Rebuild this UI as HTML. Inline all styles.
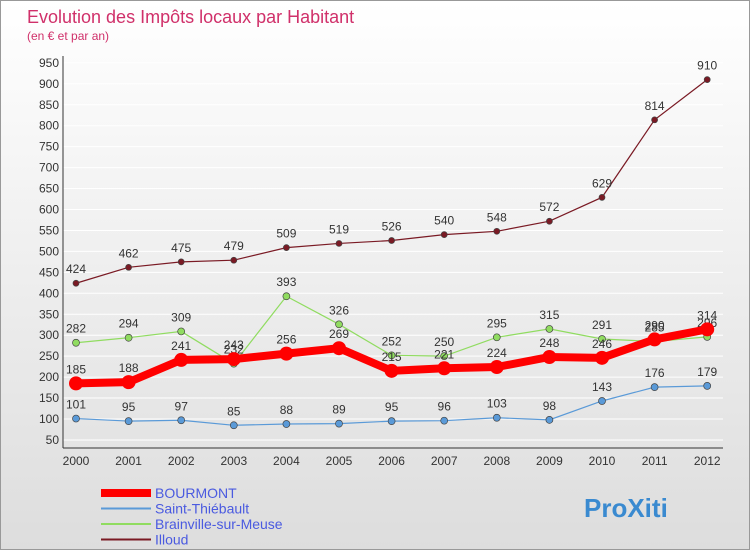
<!DOCTYPE html>
<html><head><meta charset="utf-8"><style>
body{margin:0;}
#c{width:748px;height:548px;border:1px solid #999;background:linear-gradient(#fff,#ddd);position:relative;font-family:"Liberation Sans",sans-serif;}
</style></head><body>
<div id="c">
<svg id="s" width="748" height="548"></svg>
</div>
<script>
const years=[2000,2001,2002,2003,2004,2005,2006,2007,2008,2009,2010,2011,2012];
const bourmont=[185,188,241,243,256,269,215,221,224,248,246,290,314];
const saint=[101,95,97,85,88,89,95,96,103,98,143,176,179];
const brainville=[282,294,309,232,393,326,252,250,295,315,291,285,296];
const illoud=[424,462,475,479,509,519,526,540,548,572,629,814,910];
const yTicks=[50,100,150,200,250,300,350,400,450,500,550,600,650,700,750,800,850,900,950];
const names=['BOURMONT','Saint-Thiébault','Brainville-sur-Meuse','Illoud'];
const NS='http://www.w3.org/2000/svg';
const s=document.getElementById('s');
const X=i=>75+i*52.6;
const Y=v=>418-(v-100)*0.419;
function el(t,a,txt){const e=document.createElementNS(NS,t);for(const k in a)e.setAttribute(k,a[k]);if(txt!==undefined)e.textContent=txt;s.appendChild(e);return e;}
let t=el('text',{x:26,y:22,'font-size':18,fill:'#d0306a'},'Evolution des Impôts locaux par Habitant');

t=el('text',{x:26,y:39,'font-size':12,fill:'#d0306a'},'(en € et par an)');

yTicks.forEach(v=>{
 const g=el('line',{x1:62,x2:722,y1:Y(v),y2:Y(v),stroke:'#fff','stroke-width':1});
 
 const l=el('text',{x:58,y:Y(v)+4,'font-size':12,fill:'#333','text-anchor':'end'},v);
 
});
el('line',{x1:62,x2:62,y1:55,y2:447,stroke:'#333'});
el('line',{x1:62,x2:722,y1:447,y2:447,stroke:'#333'});
years.forEach((y,i)=>{
 const l=el('text',{x:X(i),y:464,'font-size':12,fill:'#333','text-anchor':'middle'},y);
 
});
function series(d,col,w,r,name){
 const p=el('polyline',{points:d.map((v,i)=>X(i)+','+Y(v)).join(' '),fill:'none',stroke:col,'stroke-width':w});
 
 d.forEach((v,i)=>{
  const c=el('circle',{cx:X(i),cy:Y(v),r:r,fill:col,stroke:'#444','stroke-width':r>4?0:0.7});
  
  const l=el('text',{x:X(i),y:Y(v)-10,'font-size':12,fill:'#333','text-anchor':'middle'},v);
  
 });
}
series(illoud,'#7a1a24',1.2,3,'illoud');
series(brainville,'#90dc60',1.2,3.5,'brainville');
series(saint,'#5a9ad8',1.2,3.5,'saint-thiebault');
series(bourmont,'#ff0000',8,7,'bourmont');
const lc=['#ff0000','#5a9ad8','#90dc60','#7a1a24'],lw=[8,2,2,2];
names.forEach((n,i)=>{
 const y=492+i*15.5;
 const ln=el('line',{x1:100,x2:150,y1:y,y2:y,stroke:lc[i],'stroke-width':lw[i]});
 
 const tx=el('text',{x:154,y:y+5,'font-size':14,fill:'#4a5ae0'},n);
 
});
t=el('text',{x:583,y:516,'font-size':26,'font-weight':'bold',fill:'#3a8ad0'},'ProXiti');

</script>
</body></html>
